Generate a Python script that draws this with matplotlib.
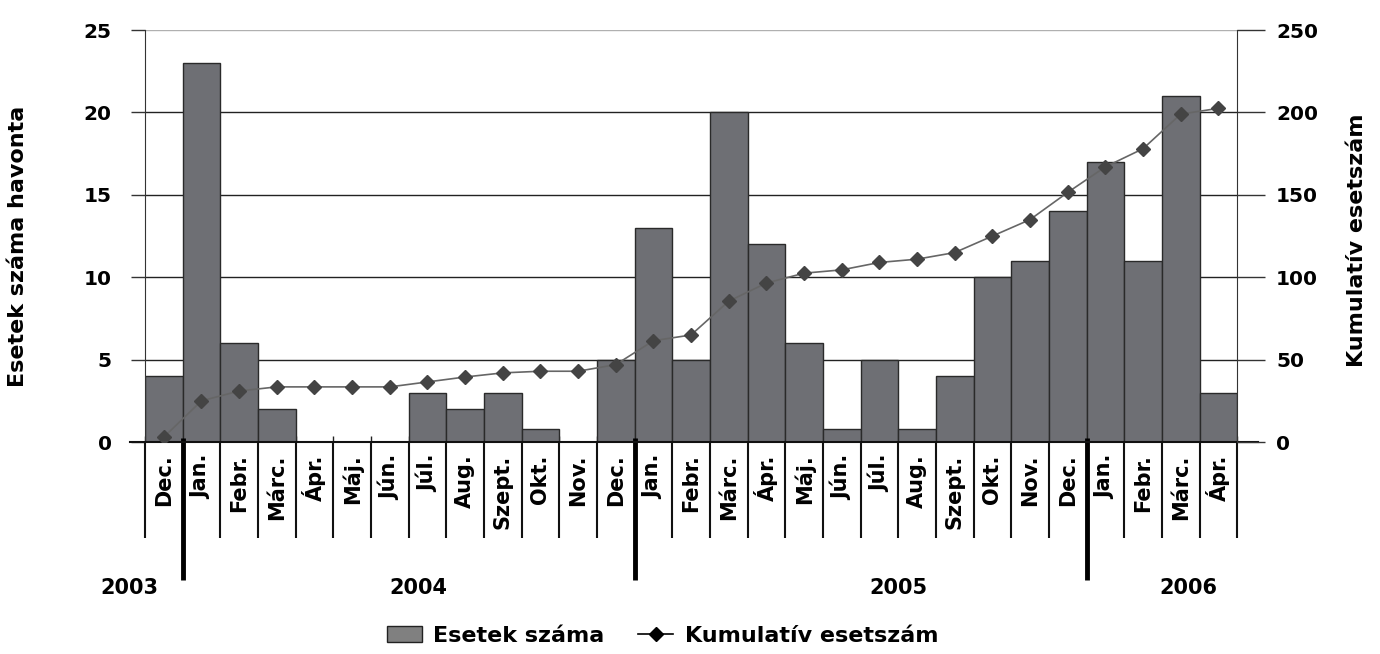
import numpy as np
import matplotlib
matplotlib.use("Agg")
import matplotlib.pyplot as plt
from matplotlib.patches import Patch
from matplotlib.lines import Line2D

plt.rcParams['font.family'] = 'DejaVu Sans'
plt.rcParams['font.weight'] = 'bold'

# data
months = ['Dec.', 'Jan.', 'Febr.', 'Márc.', 'Ápr.', 'Máj.', 'Jún.', 'Júl.', 'Aug.',
          'Szept.', 'Okt.', 'Nov.', 'Dec.', 'Jan.', 'Febr.', 'Márc.', 'Ápr.', 'Máj.',
          'Jún.', 'Júl.', 'Aug.', 'Szept.', 'Okt.', 'Nov.', 'Dec.', 'Jan.', 'Febr.',
          'Márc.', 'Ápr.']
cases = [4, 23, 6, 2, 0, 0, 0, 3, 2, 3, 0.8, 0, 5, 13, 5, 20, 12, 6, 0.8, 5, 0.8,
         4, 10, 11, 14, 17, 11, 21, 3]
cumulative = [3, 25, 31, 33.5, 33.5, 33.5, 33.5, 36.5, 39.5, 42, 43, 43, 47, 61.5,
              65, 85.5, 96.5, 102.5, 104.5, 109, 111, 115, 125, 135, 151.5, 167,
              178, 199, 202.5]
years = ['2003', '2004', '2005', '2006']
year_x = [-0.9, 6.75, 19.5, 27.2]       # label positions (category units)
year_breaks = [0.5, 12.5, 24.5]

bar_color = '#6e6f74'
x = np.arange(len(months))

fig = plt.figure(figsize=(13.8, 6.54), dpi=100)
ax = fig.add_axes([0.105, 0.324, 0.7915, 0.63])
ax2 = ax.twinx()

ax.bar(x, cases, width=1.0, color=bar_color, edgecolor='#2a2a2a', linewidth=1, zorder=2)
ax.set_xlim(-0.5, len(months) - 0.5)
ax.set_ylim(0, 25)
ax.set_yticks(range(0, 26, 5))
for v in range(5, 21, 5):
    ax.axhline(v, color='#222222', lw=1, zorder=1)
ax.axhline(25, color='#b0b0b0', lw=1, zorder=1)

ax2.plot(x, cumulative, color='#666666', lw=1.2, marker='D', markersize=7,
         markerfacecolor='#444444', markeredgecolor='#444444', zorder=5)
ax2.set_ylim(0, 250)
ax2.set_yticks(range(0, 251, 50))

ax.set_zorder(1)
ax2.set_zorder(2)
ax2.patch.set_visible(False)

for a in (ax, ax2):
    a.spines['top'].set_visible(False)
    a.spines['bottom'].set_visible(False)
ax.spines['right'].set_visible(False)
ax.spines['left'].set_color('#333333')
ax2.spines['left'].set_visible(False)
ax2.spines['right'].set_color('#333333')

ax.tick_params(axis='y', direction='out', length=10, width=1, color='#333333',
               labelsize=14.5, pad=14)
ax2.tick_params(axis='y', direction='out', length=20, width=1, color='#333333',
                labelsize=14.5, pad=8)
for lab in ax.get_yticklabels() + ax2.get_yticklabels():
    lab.set_fontweight('bold')

# category "table" below the axis
bounds = np.arange(len(months) + 1) - 0.5
ax.set_xticks(bounds)
ax.set_xticklabels([])
ax.tick_params(axis='x', direction='in', length=4, width=1, color='#222222')
trans = ax.get_xaxis_transform()
ax.vlines(bounds, -0.233, 0, transform=trans, colors='#111111', lw=1.5, clip_on=False)
ax.vlines(year_breaks, -0.335, 0.01, transform=trans, colors='black', lw=3.5,
          clip_on=False, zorder=6)
ax.plot([-0.9, len(months) - 0.5 + 0.55], [0, 0], transform=trans, color='#111111',
        lw=1.5, clip_on=False, zorder=6)
for i, m in enumerate(months):
    ax.text(i, -0.03, m, transform=trans, rotation=90, ha='center', va='top',
            fontsize=15, fontweight='bold')
for xi, yr in zip(year_x, years):
    ax.text(xi, -0.355, yr, transform=trans, ha='center', va='center',
            fontsize=15, fontweight='bold')

ax.set_ylabel('Esetek száma havonta', fontsize=16, fontweight='bold')
ax2.set_ylabel('Kumulatív esetszám', fontsize=16, fontweight='bold', rotation=90)
ax.yaxis.set_label_coords(-0.107, 0.476)
ax2.yaxis.set_label_coords(1.101, 0.49)

handles = [Patch(facecolor='#808080', edgecolor='#222222', label='Esetek száma'),
           Line2D([], [], color='black', lw=1.2, marker='D', markersize=7,
                  markerfacecolor='black', label='Kumulatív esetszám')]
fig.legend(handles=handles, loc='center', bbox_to_anchor=(0.48, 0.028), ncol=2,
           frameon=False, handlelength=1.6, columnspacing=1.5,
           handletextpad=0.5, prop={'weight': 'bold', 'size': 16})

fig.savefig('out.png', dpi=100)
